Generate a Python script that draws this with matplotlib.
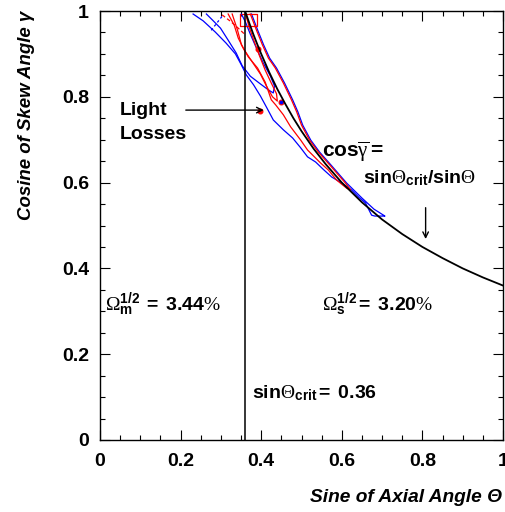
import matplotlib
matplotlib.use("Agg")
import matplotlib.pyplot as plt
from matplotlib.ticker import MultipleLocator, FixedLocator

plt.rcParams['font.family'] = ['Liberation Sans', 'DejaVu Sans']
plt.rcParams['mathtext.fontset'] = 'custom'
plt.rcParams['mathtext.rm'] = 'Liberation Serif'
plt.rcParams['mathtext.it'] = 'Liberation Serif:italic'
plt.rcParams['mathtext.bf'] = 'Liberation Sans:bold'

# ---- data ----
sin_theta_crit = 0.36

curve_x = [0.36, 0.37, 0.38, 0.39, 0.40, 0.42, 0.44, 0.46, 0.48, 0.50, 0.53, 0.56,
           0.60, 0.65, 0.70, 0.75, 0.80, 0.85, 0.90, 0.95, 1.00]
curve_y = [1.000, 0.973, 0.947, 0.923, 0.900, 0.857, 0.818, 0.783, 0.750, 0.720, 0.679,
           0.643, 0.600, 0.554, 0.514, 0.480, 0.450, 0.424, 0.400, 0.379, 0.360]

# shared outer (right) edge of contours, close to the critical curve
edge_x = [0.704, 0.677, 0.647, 0.609, 0.572, 0.542, 0.520, 0.500, 0.488, 0.475,
          0.455, 0.435, 0.418, 0.403, 0.388, 0.373]
edge_y = [0.522, 0.538, 0.564, 0.599, 0.639, 0.671, 0.699, 0.734, 0.765, 0.793,
          0.832, 0.867, 0.890, 0.921, 0.956, 0.993]

blue_outer_x = [0.231, 0.256, 0.286, 0.313, 0.336, 0.351, 0.363, 0.381, 0.398, 0.413,
                0.430, 0.455, 0.478, 0.498, 0.515, 0.535, 0.555, 0.575, 0.600, 0.624,
                0.642, 0.659, 0.674, 0.682, 0.704]
blue_outer_y = [0.993, 0.977, 0.951, 0.925, 0.900, 0.874, 0.851, 0.828, 0.802, 0.776,
                0.746, 0.723, 0.704, 0.681, 0.660, 0.648, 0.630, 0.613, 0.599, 0.583,
                0.566, 0.552, 0.524, 0.522, 0.522]

red_outer_x = [0.328, 0.341, 0.351, 0.368, 0.391, 0.410, 0.425, 0.436, 0.455, 0.473,
               0.498, 0.515, 0.547, 0.567, 0.587, 0.612, 0.622]
red_outer_y = [0.993, 0.956, 0.921, 0.893, 0.867, 0.834, 0.793, 0.781, 0.758, 0.730,
               0.699, 0.676, 0.646, 0.629, 0.606, 0.587, 0.583]

red_inner_x = [0.318, 0.333, 0.343, 0.358, 0.378, 0.398, 0.413, 0.428, 0.440, 0.438,
               0.425, 0.410, 0.396, 0.383, 0.371, 0.361]
red_inner_y = [0.993, 0.967, 0.937, 0.909, 0.881, 0.853, 0.825, 0.800, 0.790, 0.807,
               0.832, 0.862, 0.895, 0.928, 0.960, 0.993]

blue_inner_x = [0.264, 0.279, 0.299, 0.318, 0.338, 0.353, 0.373, 0.398, 0.418, 0.430,
                0.433, 0.423, 0.405, 0.388, 0.373, 0.361, 0.351]
blue_inner_y = [0.993, 0.979, 0.960, 0.932, 0.902, 0.872, 0.848, 0.830, 0.816, 0.809,
                0.825, 0.848, 0.879, 0.914, 0.946, 0.974, 0.993]

# small fragments near the top
red_box_x = [0.348, 0.348, 0.390, 0.390, 0.352]
red_box_y = [0.993, 0.965, 0.965, 0.993, 0.993]
red_frag_x = [0.303, 0.325, 0.343, 0.361]
red_frag_y = [0.991, 0.975, 0.960, 0.944]
blue_dash_x = [0.276, 0.290, 0.305]
blue_dash_y = [0.955, 0.972, 0.990]

# small islands
island_x = [0.393, 0.450, 0.396]
island_y = [0.911, 0.788, 0.767]
island_c = ['red', 'blue', 'red']

# ---- figure ----
fig = plt.figure(figsize=(5.05, 5.12), dpi=100)
ax = fig.add_axes([100/505, 72/512, 403/505, 429/512])

lw_c = 0.9
ax.plot(blue_outer_x + [x + 0.003 for x in edge_x], blue_outer_y + edge_y, color='blue', lw=lw_c)
ax.plot(blue_inner_x, blue_inner_y, color='blue', lw=lw_c)
ax.plot(blue_dash_x, blue_dash_y, color='blue', lw=lw_c, ls=(0, (2, 2)))
ax.plot(red_outer_x + edge_x[3:], red_outer_y + edge_y[3:], color='red', lw=lw_c)
ax.plot(red_inner_x, red_inner_y, color='red', lw=lw_c)
ax.plot(red_box_x, red_box_y, color='red', lw=lw_c)
ax.plot(red_frag_x, red_frag_y, color='red', lw=lw_c, ls=(0, (3, 2)))
for xi, yi, ci in zip(island_x, island_y, island_c):
    ax.plot([xi], [yi], marker='o', ms=3.5, color=ci, mec='red', mew=0.8)

ax.plot(curve_x, curve_y, color='black', lw=1.3)
ax.plot([sin_theta_crit, sin_theta_crit], [0, 1], color='black', lw=1.1)

ax.set_xlim(0, 1)
ax.set_ylim(0, 1)
ax.xaxis.set_major_locator(FixedLocator([0, 0.2, 0.4, 0.6, 0.8, 1.0]))
ax.yaxis.set_major_locator(FixedLocator([0, 0.2, 0.4, 0.6, 0.8, 1.0]))
ax.set_xticklabels(['0', '0.2', '0.4', '0.6', '0.8', '1'])
ax.set_yticklabels(['0', '0.2', '0.4', '0.6', '0.8', '1'])
ax.xaxis.set_minor_locator(MultipleLocator(0.05))
ax.yaxis.set_minor_locator(MultipleLocator(0.05))
ax.tick_params(which='both', direction='in', top=True, right=True, width=0.8)
ax.tick_params(which='major', length=7)
ax.tick_params(which='minor', length=3.5)
ax.tick_params(axis='x', pad=9, labelsize=14)
ax.tick_params(axis='y', pad=8, labelsize=14)
for lab in ax.get_xticklabels() + ax.get_yticklabels():
    lab.set_fontweight('bold')
for s in ax.spines.values():
    s.set_linewidth(1.0)

fig.text(502/505, 1 - 497/512, 'Sine of Axial Angle \u0398', ha='right', va='center',
         fontsize=13.8, fontweight='bold', fontstyle='italic')
fig.text(27/505, 1 - 11/512, 'Cosine of Skew Angle \u03b3', ha='center', va='top',
         rotation=90, fontsize=13.4, fontweight='bold', fontstyle='italic')

tkw = dict(fontsize=14, fontweight='bold', va='center', ha='left')
ax.text(0.050, 0.769, 'Light', **tkw)
ax.text(0.050, 0.711, 'Losses', **tkw)
ax.annotate('', xy=(0.413, 0.769), xytext=(0.206, 0.769),
            arrowprops=dict(arrowstyle='->', color='black', lw=1.0))
ax.text(0.552, 0.671, r'$\mathbf{cos}\overline{\mathrm{\gamma}}\mathbf{=}$', fontsize=15,
        fontweight='bold', va='center', ha='left')
ax.text(0.652, 0.611, r'$\mathbf{sin}\Theta_{\mathbf{crit}}\mathbf{/sin}\Theta$', **tkw)
ax.annotate('', xy=(0.808, 0.462), xytext=(0.808, 0.548),
            arrowprops=dict(arrowstyle='->', color='black', lw=1.0))
ax.text(0.012, 0.315, r'$\Omega_{\mathbf{m}}^{\mathbf{1/2}}\mathbf{\ =\ 3.44}\%$', **tkw)
ax.text(0.552, 0.315, r'$\Omega_{\mathbf{s}}^{\mathbf{1/2}}\mathbf{=\ 3.20}\%$', **tkw)
ax.text(0.378, 0.110, r'$\mathbf{sin}\Theta_{\mathbf{crit}}\mathbf{=\ 0.36}$', **tkw)

fig.savefig('out.png', dpi=100)
